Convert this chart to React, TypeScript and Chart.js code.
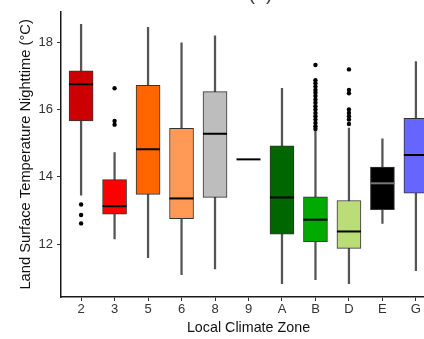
import React, { useEffect, useRef } from 'react';
import { Chart, registerables } from 'chart.js';

Chart.register(...registerables);

const categories = ['2', '3', '5', '6', '8', '9', 'A', 'B', 'D', 'E', 'G'];
const whiskerLow = [13.46, 12.16, 11.6, 11.1, 11.27, null, 10.83, 10.95, 10.83, 12.62, 11.22];
const q1 = [15.66, 12.89, 13.48, 12.76, 13.39, 14.52, 12.3, 12.07, 11.88, 13.03, 13.52];
const median = [16.75, 13.13, 14.82, 13.36, 15.28, 14.52, 13.39, 12.73, 12.38, 13.81, 14.65];
const q3 = [17.15, 13.92, 16.72, 15.44, 16.53, 14.52, 14.92, 13.41, 13.3, 14.29, 15.74];
const whiskerHigh = [18.53, 14.72, 18.44, 17.98, 18.19, null, 16.63, 15.35, 15.45, 15.13, 17.42];

const outliers2 = [13.18, 12.87, 12.62];
const outliers3 = [16.63, 15.66, 15.55];
const outliersB = [17.32, 16.87, 16.78, 16.68, 16.58, 16.5, 16.4, 16.3, 16.2, 16.1, 16.0, 15.9, 15.8, 15.7, 15.6, 15.5, 15.42];
const outliersD = [17.19, 16.58, 16.48, 16.0, 15.9, 15.8, 15.7, 15.57];

const yTicks = [12, 14, 16, 18];
const yMin = 10.435;
const yMax = 18.9;

const boxColors = ['#CC0000', '#FF0000', '#FF6600', '#FF9955', '#BDBDBD', '#000000', '#006600', '#00AA00', '#BBDD77', '#000000', '#6666FF'];
const medianColors = ['#000', '#000', '#000', '#000', '#000', '#000', '#000', '#000', '#000', '#777', '#000'];

const FONT = "'Liberation Sans', Arial, sans-serif";

export default function App() {
  const ref = useRef<HTMLCanvasElement | null>(null);

  useEffect(() => {
    if (!ref.current) return;

    const outlierPoints: { x: number; y: number }[] = [];
    const addOut = (zone: string, vals: number[]) => {
      const i = categories.indexOf(zone);
      vals.forEach((v) => outlierPoints.push({ x: i, y: v }));
    };
    addOut('2', outliers2);
    addOut('3', outliers3);
    addOut('B', outliersB);
    addOut('D', outliersD);

    const medianPlugin = {
      id: 'medians',
      afterDatasetsDraw(chart: any) {
        const xs = chart.scales.x;
        const ys = chart.scales.y;
        const meta = chart.getDatasetMeta(1);
        const ctx = chart.ctx;
        ctx.save();
        median.forEach((m, i) => {
          const cx = xs.getPixelForValue(i);
          const el = meta.data[i];
          const half = el && el.width ? el.width / 2 : 12;
          const py = ys.getPixelForValue(m);
          ctx.strokeStyle = medianColors[i];
          ctx.lineWidth = 2;
          ctx.beginPath();
          ctx.moveTo(cx - half, py);
          ctx.lineTo(cx + half, py);
          ctx.stroke();
        });
        ctx.restore();
      },
    };

    const titlePlugin = {
      id: 'panelTitle',
      afterDraw(chart: any) {
        const ctx = chart.ctx;
        const ca = chart.chartArea;
        ctx.save();
        ctx.font = `20px ${FONT}`;
        ctx.fillStyle = '#444';
        ctx.textAlign = 'center';
        ctx.textBaseline = 'alphabetic';
        ctx.fillText('(a)', (ca.left + ca.right) / 2 + 12, 0);
        ctx.restore();
      },
    };

    const chart = new Chart(ref.current, {
      type: 'bar',
      data: {
        datasets: [
          {
            label: 'whiskers',
            data: categories.map((_, i) =>
              whiskerLow[i] == null ? { x: i, y: null } : { x: i, y: [whiskerLow[i], whiskerHigh[i]] }
            ) as any,
            backgroundColor: '#555',
            borderWidth: 0,
            barThickness: 1.6,
            grouped: false,
            order: 3,
          } as any,
          {
            label: 'boxes',
            data: categories.map((_, i) => ({ x: i, y: [q1[i], q3[i]] })) as any,
            backgroundColor: boxColors,
            borderColor: '#333',
            borderWidth: 1,
            borderSkipped: false,
            barThickness: 24,
            grouped: false,
            order: 2,
          } as any,
          {
            type: 'scatter',
            label: 'outliers',
            data: outlierPoints,
            backgroundColor: '#000',
            borderColor: '#000',
            pointRadius: 2.2,
            borderWidth: 0,
            order: 1,
          } as any,
        ],
      },
      options: {
        animation: false,
        responsive: false,
        maintainAspectRatio: false,
        layout: { padding: { top: 5, left: 0, right: 4, bottom: 0 } },
        plugins: { legend: { display: false }, tooltip: { enabled: false } },
        scales: {
          x: {
            type: 'linear',
            min: -0.6,
            max: categories.length - 0.4,
            offset: false,
            afterBuildTicks: (scale: any) => {
              scale.ticks = categories.map((_, i) => ({ value: i }));
            },
            afterFit: (scale: any) => {
              scale.height = 42;
            },
            ticks: {
              callback: (v: any) => categories[Math.round(Number(v))] ?? '',
              font: { family: FONT, size: 13 },
              color: '#333',
              padding: 1,
              maxRotation: 0,
              autoSkip: false,
            },
            grid: { display: true, drawOnChartArea: false, drawTicks: true, tickLength: 4, color: '#333', offset: false },
            border: { display: true, color: '#1a1a1a', width: 1.5 },
            title: {
              display: true,
              text: 'Local Climate Zone',
              font: { family: FONT, size: 14.3 },
              color: '#111',
              padding: { top: 0, bottom: 2.6 },
            },
          } as any,
          y: {
            type: 'linear',
            min: yMin,
            max: yMax,
            beginAtZero: false,
            afterBuildTicks: (scale: any) => {
              scale.ticks = yTicks.map((v) => ({ value: v }));
            },
            afterFit: (scale: any) => {
              scale.width = 61;
            },
            ticks: {
              font: { family: FONT, size: 13 },
              color: '#333',
              padding: 4,
            },
            grid: { display: true, drawOnChartArea: false, drawTicks: true, tickLength: 4, color: '#333' },
            border: { display: true, color: '#1a1a1a', width: 1.5 },
            title: {
              display: true,
              text: 'Land Surface Temperature Nighttime (°C)',
              font: { family: FONT, size: 14.7 },
              color: '#111',
              padding: { top: 17, bottom: 0 },
            },
          } as any,
        },
      } as any,
      plugins: [medianPlugin, titlePlugin],
    });

    return () => chart.destroy();
  }, []);

  return (
    <div style={{ position: 'absolute', left: 0, top: 0, width: 424, height: 339, overflow: 'hidden', background: '#fff' }}>
      <canvas ref={ref} width={440} height={339} style={{ width: 440, height: 339, display: 'block' }} />
    </div>
  );
}
